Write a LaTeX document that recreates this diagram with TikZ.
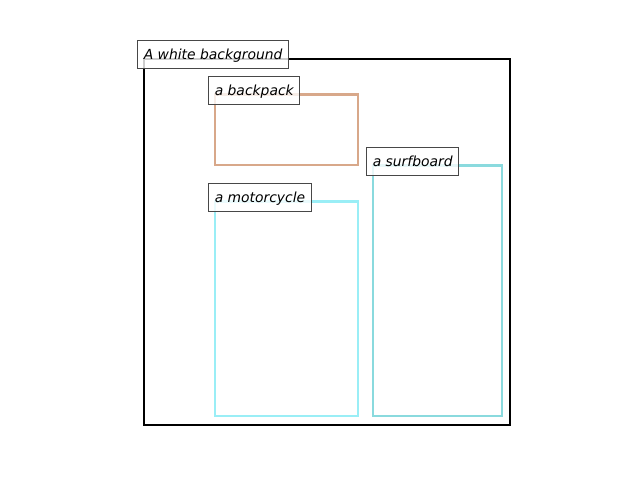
\documentclass[tikz,border=0pt]{standalone}
\usepackage{fontspec}
\setmainfont{DejaVu Sans}
\begin{document}
\begin{tikzpicture}[x=0.72pt,y=-0.72pt,
  frame/.style={draw=black,line width=1.44pt},
  obj/.style={line width=1.8pt},
  lbl/.style={draw=black!72,line width=0.72pt,fill=white,fill opacity=0.8,text opacity=1,
    anchor=base west,inner xsep=4.5pt,inner ysep=4pt,text height=9.6pt,text depth=2.6pt,
    font=\fontsize{10pt}{12pt}\selectfont\itshape}]
\useasboundingbox (0,0) rectangle (640,480);
\draw[frame] (144,59) rectangle (510,425);
\node[lbl] (bg) at (137,59.5) {A white background};
\draw[obj,draw={rgb,255:red,216;green,168;blue,138}] (215,94.5) rectangle (358,165);
\node[lbl] (bp) at (208,95) {a backpack};
\draw[obj,draw={rgb,255:red,154;green,238;blue,246}] (215,201.5) rectangle (358,416);
\node[lbl] (mc) at (208,202) {a motorcycle};
\draw[obj,draw={rgb,255:red,138;green,218;blue,222}] (373,165.5) rectangle (502,416);
\node[lbl] (sb) at (366,166) {a surfboard};
\end{tikzpicture}
\end{document}
